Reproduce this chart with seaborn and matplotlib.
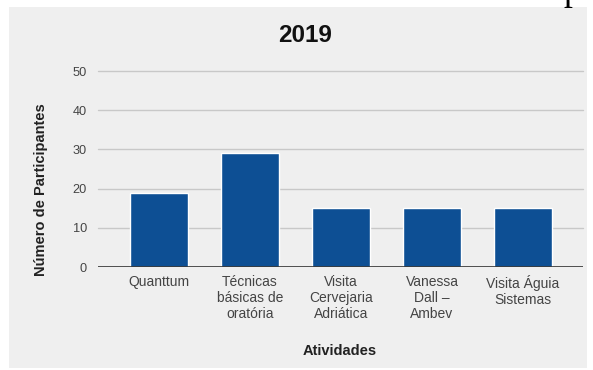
import matplotlib
matplotlib.use("Agg")
import matplotlib.pyplot as plt
import seaborn as sns
import pandas as pd
from matplotlib.patches import Rectangle

categories = ["Quanttum", "Técnicas\nbásicas de\noratória", "Visita\nCervejaria\nAdriática",
              "Vanessa\nDall –\nAmbev", "Visita Águia\nSistemas"]
values = [19, 29, 15, 15, 15]
yticks = [0, 10, 20, 30, 40, 50]

sns.set_theme(style="white")
plt.rcParams['font.family'] = ['Liberation Sans', 'DejaVu Sans']

W, H = 593, 370
fig = plt.figure(figsize=(W / 100, H / 100), dpi=100)
fig.patch.set_facecolor("white")
fig.patches.append(Rectangle((9 / W, 2 / H), (587 - 9) / W, (363 - 2) / H,
                             transform=fig.transFigure, facecolor="#efefef",
                             edgecolor="none", zorder=-5))

# cut-off caption from the source document
fig.text(226 / W, 1 - 0.5 / H, "Gráfico 1 - Número de participantes", family="Liberation Serif",
         fontsize=26, color="black", ha="left", va="baseline")

ax = fig.add_axes([98 / W, 103 / H, (583 - 98) / W, (299 - 103) / H])
ax.set_facecolor("none")
df = pd.DataFrame({"Atividade": categories, "Participantes": values})
sns.barplot(data=df, x="Atividade", y="Participantes", color="#0d4f94", width=0.64,
            saturation=1, ax=ax, zorder=3)
ax.set_xlim(-0.67, 4.66)
ax.set_ylim(0, 50)
ax.set_yticks(yticks)
for t in yticks[1:]:
    ax.axhline(t, color="#c8c8c8", lw=1.0, zorder=1, clip_on=False)
ax.axhline(0, color="#333333", lw=1.2, zorder=4)
for s in ax.spines.values():
    s.set_visible(False)
ax.tick_params(axis="y", length=0, labelsize=9.2, colors="#444444", pad=8)
ax.tick_params(axis="x", length=0, labelsize=10, colors="#444444", pad=6)
for lab in ax.get_xticklabels():
    lab.set_linespacing(1.15)
ax.set_xlabel("")
ax.set_ylabel("")

fig.text(305 / W, 1 - 36 / H, "2019", fontsize=17.5, fontweight="bold", color="#111111",
         ha="center", va="center")
fig.text(41 / W, 1 - 190 / H, "Número de Participantes", fontsize=10.5, fontweight="bold",
         color="#222222", rotation=90, ha="center", va="center")
fig.text(340 / W, 1 - 351 / H, "Atividades", fontsize=10.5, fontweight="bold",
         color="#222222", ha="center", va="center")

fig.savefig("out.png", dpi=100)
